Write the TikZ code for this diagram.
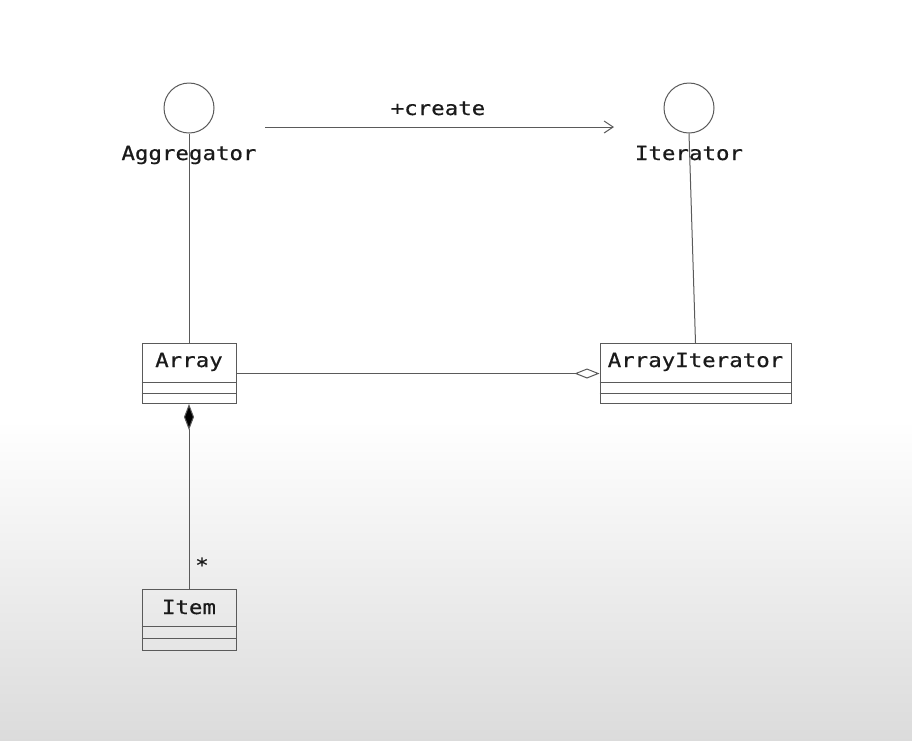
\documentclass[tikz,border=0pt]{standalone}
\usepackage{fontspec}
\setmonofont[FakeStretch=1.15,FakeBold=0.6]{DejaVu Sans Mono}
\usetikzlibrary{arrows.meta,calc}
\definecolor{ink}{HTML}{1A1A1A}
\definecolor{edge}{HTML}{5A5A5A}
\tikzset{
  lbl/.style={font=\ttfamily\fontsize{19.5}{24}\selectfont, text=ink, inner sep=0pt, anchor=base},
  iface/.style={circle, draw=edge, line width=1pt, minimum size=50pt, inner sep=0pt},
  cls/.style={rectangle, draw=edge, line width=1pt, inner sep=0pt},
  conn/.style={draw=edge, line width=1pt},
}
\begin{document}
\begin{tikzpicture}[x=1pt,y=-1pt]
\useasboundingbox (0,0) rectangle (912,740);
\fill[white] (0,0) rectangle (912,420);
\shade[top color=white, bottom color=gray!28] (0,420) rectangle (912,740);

% interfaces
\node[iface] (aggc) at (189,108) {};
\node[lbl] (aggl) at (189,160) {Aggregator};
\node[iface] (itc) at (689,108) {};
\node[lbl] (itl) at (689,160) {Iterator};

% classes
\node[cls, minimum width=94pt, minimum height=60pt] (array) at (189,373.5) {};
\node[lbl] (arrayl) at (189,367) {Array};
\draw[conn] ($(array.north west)+(0,39)$) -- ($(array.north east)+(0,39)$);
\draw[conn] ($(array.north west)+(0,50)$) -- ($(array.north east)+(0,50)$);

\node[cls, minimum width=191pt, minimum height=60pt] (arrit) at (695.5,373.5) {};
\node[lbl] (arritl) at (695.5,367) {ArrayIterator};
\draw[conn] ($(arrit.north west)+(0,39)$) -- ($(arrit.north east)+(0,39)$);
\draw[conn] ($(arrit.north west)+(0,50)$) -- ($(arrit.north east)+(0,50)$);

\node[cls, minimum width=94pt, minimum height=61pt] (item) at (189,619.5) {};
\node[lbl] (iteml) at (189,614) {Item};
\draw[conn] ($(item.north west)+(0,38)$) -- ($(item.north east)+(0,38)$);
\draw[conn] ($(item.north west)+(0,50)$) -- ($(item.north east)+(0,50)$);

% connectors
\draw[conn] (aggc.south) -- (array.north);
\draw[conn] (itc.south) -- (arrit.north);
\coordinate (cs) at (265,127);
\coordinate (ce) at (614,127);
\draw[conn, -{Straight Barb[length=9pt,width=12pt,line width=1pt]}] (cs) -- (ce);
\node[lbl] (createl) at (438,115) {+create};
\draw[conn, -{Diamond[open,length=25pt,width=10pt,fill=white]}] (array.east) -- (arrit.west);
\draw[conn, {Diamond[length=26pt,width=10pt,fill=black]}-] (array.south) -- (item.north);
\node[lbl] (star) at (202,572) {*};
\end{tikzpicture}
\end{document}
